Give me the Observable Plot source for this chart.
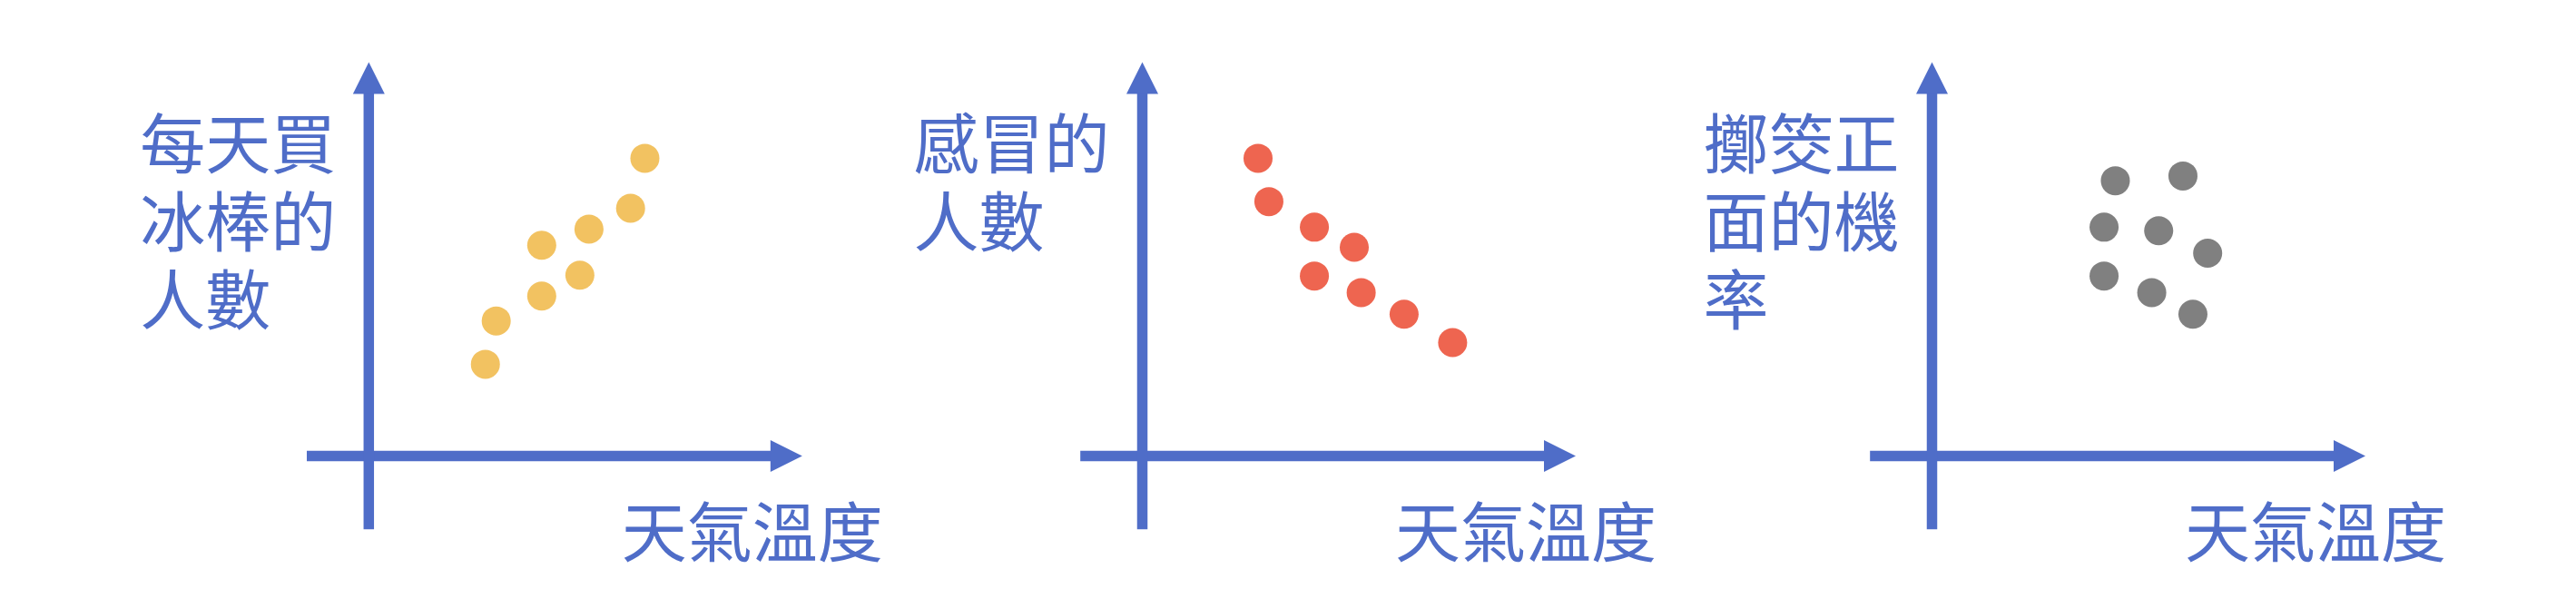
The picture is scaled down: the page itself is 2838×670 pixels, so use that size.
<!DOCTYPE html>
<html>
<head>
<meta charset="utf-8">
<script src="https://cdn.jsdelivr.net/npm/d3@7"></script>
<script src="https://cdn.jsdelivr.net/npm/@observablehq/plot@0.6"></script>
<style>
  html, body { margin: 0; padding: 0; background: #ffffff; }
  #chart { position: relative; width: 2838px; height: 670px; overflow: hidden; }
  #chart svg { position: absolute; left: 0; top: 0; }
</style>
</head>
<body>
<div id="chart"></div>
<script>
// ---- data ----
const xLabel = "天氣溫度";
const yLabels = ["每天買\n冰棒的\n人數", "感冒的\n人數", "擲筊正\n面的機\n率"];

// panel 1: ice-cream buyers vs temperature
const temp1 = [63.7, 60.4, 50.8, 39.9, 48.7, 39.9, 29.4, 26.9];
const iceCream = [75.6, 62.9, 57.6, 53.5, 45.9, 40.6, 34.3, 23.3];
// panel 2: people with a cold vs temperature
const temp2 = [26.7, 29.2, 39.7, 48.9, 39.7, 50.5, 60.4, 71.6];
const colds = [75.6, 64.6, 58.1, 53.0, 45.7, 41.5, 36.0, 28.8];
// panel 3: probability of a positive divination block vs temperature
const temp3 = [42.3, 57.9, 39.7, 52.3, 63.6, 39.7, 50.7, 60.2];
const coinProb = [69.9, 71.1, 58.1, 57.2, 51.5, 45.7, 41.5, 36.0];

const dotColors = ["#F2C261", "#EE6550", "#808080"];
const axisColor = "#4F6DC8";

// ---- layout ----
const W = 2838, H = 670;
const originsX = [405.8, 1258, 2128];
const axisLenX = 477.5;
const originY = 502, tipY = 68;
const fontFamily = "'Noto Sans CJK TC', 'Noto Sans CJK SC', sans-serif";
const fontSize = 72;

const arrowRight = {draw(ctx) { ctx.moveTo(0, 0); ctx.lineTo(-35, -17.5); ctx.lineTo(-35, 17.5); ctx.closePath(); }};
const arrowUp = {draw(ctx) { ctx.moveTo(0, 0); ctx.lineTo(-17.5, 35); ctx.lineTo(17.5, 35); ctx.closePath(); }};

const panels = [
  {xs: temp1, ys: iceCream},
  {xs: temp2, ys: colds},
  {xs: temp3, ys: coinProb}
];

const chart = document.getElementById("chart");

panels.forEach((p, i) => {
  const data = p.xs.map((x, k) => ({x, y: p.ys[k]}));
  const plot = Plot.plot({
    width: W,
    height: H,
    margin: 0,
    style: {background: "transparent", overflow: "visible"},
    x: {domain: [0, 100], range: [originsX[i], originsX[i] + axisLenX], axis: null},
    y: {domain: [0, 100], range: [originY, tipY], axis: null},
    marks: [
      Plot.ruleY([0], {x1: -14.2, x2: 95, stroke: axisColor, strokeWidth: 11.5}),
      Plot.ruleX([0], {y1: -18.7, y2: 95, stroke: axisColor, strokeWidth: 11.5}),
      Plot.dot([{x: 100, y: 0}], {x: "x", y: "y", symbol: arrowRight, fill: axisColor, stroke: "none"}),
      Plot.dot([{x: 0, y: 100}], {x: "x", y: "y", symbol: arrowUp, fill: axisColor, stroke: "none"}),
      Plot.dot(data, {x: "x", y: "y", r: 16, fill: dotColors[i], stroke: "none"}),
      Plot.text([yLabels[i]], {
        x: () => 0, y: () => 100, text: d => d,
        textAnchor: "start", lineAnchor: "top", lineHeight: 1.19,
        dx: -252, dy: 56,
        fontSize, fontFamily, fill: axisColor
      }),
      Plot.text([xLabel], {
        x: () => 100, y: () => 0, text: d => d,
        textAnchor: "end", lineAnchor: "middle",
        dx: 89, dy: 87,
        fontSize, fontFamily, fill: axisColor
      })
    ]
  });
  chart.appendChild(plot);
});
</script>
</body>
</html>
